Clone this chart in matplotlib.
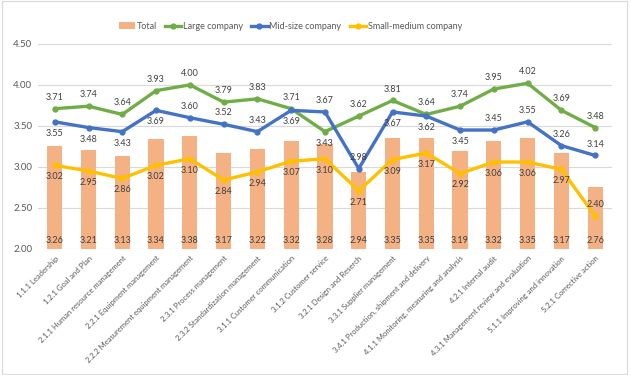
import numpy as np
import matplotlib.pyplot as plt
from matplotlib.patches import Rectangle

# Data
categories = ['1.1.1 Leadership', '1.2.1 Goal and Plan', '2.1.1 Human resource management',
              '2.2.1 Equipment management', '2.2.2 Measurement equipment management',
              '2.3.1 Process management', '2.3.2 Standardization management',
              '3.1.1 Customer communication', '3.1.2 Customer service',
              '3.2.1 Design and Reserch', '3.3.1 Supplier management',
              '3.4.1 Production, shipment and delivery', '4.1.1 Monitoring, measuring and analysis',
              '4.2.1 Internal audit', '4.3.1 Management review and evaluation',
              '5.1.1 Improving and innovation', '5.2.1 Corrective action']
total = [3.26, 3.21, 3.13, 3.34, 3.38, 3.17, 3.22, 3.32, 3.28, 2.94, 3.35, 3.35, 3.19, 3.32, 3.35, 3.17, 2.76]
large = [3.71, 3.74, 3.64, 3.93, 4.00, 3.79, 3.83, 3.71, 3.43, 3.62, 3.81, 3.64, 3.74, 3.95, 4.02, 3.69, 3.48]
mid = [3.55, 3.48, 3.43, 3.69, 3.60, 3.52, 3.43, 3.69, 3.67, 2.98, 3.67, 3.62, 3.45, 3.45, 3.55, 3.26, 3.14]
small = [3.02, 2.95, 2.86, 3.02, 3.10, 2.84, 2.94, 3.07, 3.10, 2.71, 3.09, 3.17, 2.92, 3.06, 3.06, 2.97, 2.40]

# label placement: 1 = above point, -1 = below point
large_pos = [1] * 8 + [-1] + [1] * 8
mid_pos = [-1, -1, -1, -1, 1, 1, 1, -1, 1, 1, -1, -1, -1, 1, 1, 1, 1]
small_pos = [-1] * 16 + [1]

plt.rcParams['font.family'] = ['Lato', 'DejaVu Sans']
txt = '#404040'

fig = plt.figure(figsize=(6.31, 3.75), dpi=100)
ax = fig.add_axes([0.060, 0.336, 0.910, 0.547])
fig.patches.append(Rectangle((0.003, 0.003), 0.990, 0.994, transform=fig.transFigure,
                             fill=False, edgecolor='#D9D9D9', linewidth=0.8))

x = np.arange(len(categories))
bars = ax.bar(x, np.array(total) - 2.0, bottom=2.0, width=0.45, color='#F4B183', label='Total', zorder=2)
l1, = ax.plot(x, large, color='#70AD47', lw=2.4, marker='o', ms=3.5, label='Large company', zorder=3)
l2, = ax.plot(x, mid, color='#4472C4', lw=2.4, marker='o', ms=3.5, label='Mid-size company', zorder=3)
l3, = ax.plot(x, small, color='#FFC000', lw=2.4, marker='o', ms=3.5, label='Small-medium company', zorder=3)

for i in range(len(categories)):
    ax.annotate(f'{total[i]:.2f}', (x[i], 2.0), xytext=(0, 3), textcoords='offset points',
                ha='center', va='bottom', fontsize=6.5, color=txt, zorder=4)
    for vals, pos in ((large, large_pos), (mid, mid_pos), (small, small_pos)):
        p = pos[i]
        ax.annotate(f'{vals[i]:.2f}', (x[i], vals[i]), xytext=(0, 5 * p), textcoords='offset points',
                    ha='center', va='bottom' if p > 0 else 'top', fontsize=6.5, color=txt, zorder=4)

ax.set_xlim(-0.5, len(categories) - 0.5)
ax.set_ylim(2.0, 4.5)
ax.set_yticks([2.0, 2.5, 3.0, 3.5, 4.0, 4.5])
ax.set_yticklabels(['2.00', '2.50', '3.00', '3.50', '4.00', '4.50'], fontsize=7, color='#595959')
ax.set_xticks(x)
ax.set_xticklabels(categories, rotation=45, ha='right', rotation_mode='anchor',
                   fontsize=5.5, color='#595959')
ax.tick_params(length=0, pad=4)
ax.grid(axis='y', color='#D9D9D9', lw=0.8, zorder=0)
ax.set_axisbelow(True)
for s in ax.spines.values():
    s.set_visible(False)

fig.legend(handles=[bars, l1, l2, l3], loc='center', bbox_to_anchor=(0.46, 0.93), ncol=4,
           frameon=False, fontsize=6.5, labelcolor='#595959', handlelength=1.8,
           columnspacing=0.9, handletextpad=0.2)

fig.savefig('out.png', dpi=100)
